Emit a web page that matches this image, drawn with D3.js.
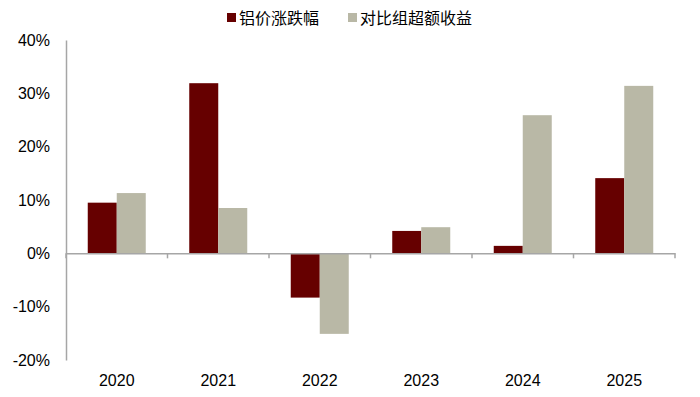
<!DOCTYPE html>
<html><head><meta charset="utf-8">
<script src="https://cdn.jsdelivr.net/npm/d3@7"></script>
<style>body{margin:0;background:#fff}svg{display:block}</style>
</head><body>
<svg id="c" width="700" height="397"></svg>
<script>
const categories = ["2020","2021","2022","2023","2024","2025"];
const seriesNames = ["铝价涨跌幅","对比组超额收益"];
const aluminumChange = [9.5, 31.9, -8.3, 4.2, 1.4, 14.1];
const excessReturn = [11.3, 8.5, -15.1, 4.9, 25.9, 31.4];
const yTicks = [-20,-10,0,10,20,30,40];
const colors = ["#660000","#B9B8A6"];

const svg = d3.select("#c");
const x0 = d3.scaleBand().domain(categories).range([66, 675]).paddingInner(0).paddingOuter(0);
const y = d3.scaleLinear().domain([-20, 40]).range([360, 40]);
const barW = 29;
const x1 = d3.scaleBand().domain(seriesNames).range([0, barW*2]);
const font = "Liberation Sans, Arial, sans-serif";
const axisColor = "#a6a6a6";

const series = [aluminumChange, excessReturn];
series.forEach((vals, si) => {
  svg.append("g").selectAll("rect").data(vals).join("rect")
    .attr("x", (d,i) => x0(categories[i]) + x0.bandwidth()/2 - barW + x1(seriesNames[si]))
    .attr("width", x1.bandwidth())
    .attr("y", d => y(Math.max(0,d)))
    .attr("height", d => Math.abs(y(d) - y(0)))
    .attr("fill", colors[si]);
});

// y axis
const yAxis = d3.axisLeft(y).tickValues(yTicks).tickSize(0).tickPadding(16).tickFormat(d => d + "%");
const gy = svg.append("g").attr("transform","translate(66,0)").call(yAxis);
gy.select(".domain").attr("stroke", axisColor).attr("stroke-width",1.5);
gy.selectAll("text").attr("font-family", font).attr("font-size", 16).attr("fill","#000");

// x axis at zero
const xAxis = d3.axisBottom(x0).tickSize(0).tickFormat("");
const gx = svg.append("g").attr("transform", `translate(0,${y(0)})`).call(xAxis);
gx.select(".domain").attr("stroke", axisColor).attr("stroke-width",1.5);
const tickPos = categories.map(c => x0(c)).concat([675]);
gx.selectAll(".sep").data(tickPos).join("line").attr("class","sep")
  .attr("x1", d=>d).attr("x2", d=>d).attr("y1",0).attr("y2",5)
  .attr("stroke", axisColor).attr("stroke-width",1.5);

// category labels at bottom
svg.append("g").selectAll("text").data(categories).join("text")
  .attr("x", d => x0(d) + x0.bandwidth()/2)
  .attr("y", 386)
  .attr("text-anchor","middle")
  .attr("font-family", font).attr("font-size", 16).attr("fill","#000")
  .text(d => d);

// legend
const legX = [227, 348];
const lg = svg.append("g");
seriesNames.forEach((n,i) => {
  lg.append("rect").attr("x", legX[i]).attr("y", 13).attr("width", 9).attr("height", 9).attr("fill", colors[i]);
  lg.append("text").attr("x", legX[i] + 12).attr("y", 23.5)
    .attr("font-family", "Noto Sans CJK SC, sans-serif").attr("font-size", 16).attr("fill","#000")
    .text(n);
});
</script>
</body></html>
